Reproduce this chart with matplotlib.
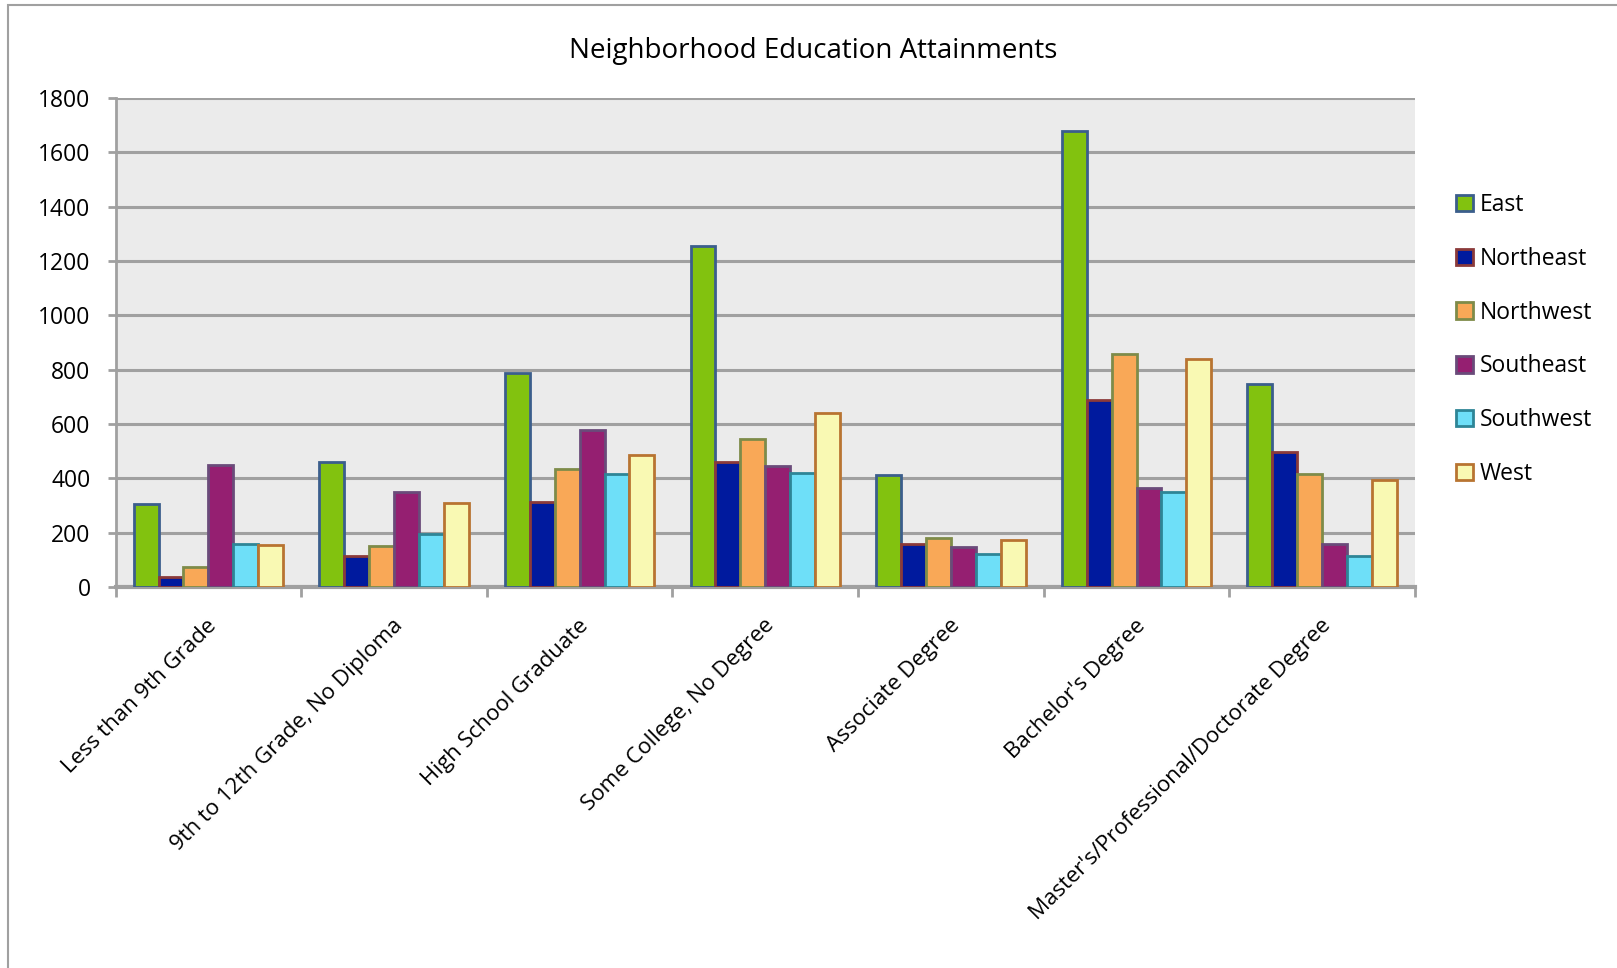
import matplotlib
matplotlib.use("Agg")
import matplotlib.pyplot as plt
import numpy as np
from matplotlib.patches import Rectangle, Patch

categories = ["Less than 9th Grade", "9th to 12th Grade, No Diploma", "High School Graduate",
              "Some College, No Degree", "Associate Degree", "Bachelor's Degree",
              "Master's/Professional/Doctorate Degree"]
series_names = ["East", "Northeast", "Northwest", "Southeast", "Southwest", "West"]
east = [306, 461, 787, 1256, 412, 1679, 747]
northeast = [37, 114, 312, 460, 160, 690, 497]
northwest = [72, 151, 434, 544, 179, 859, 415]
southeast = [450, 349, 577, 446, 147, 366, 159]
southwest = [160, 196, 415, 419, 122, 351, 115]
west = [156, 310, 485, 641, 174, 839, 394]
yticks = [0, 200, 400, 600, 800, 1000, 1200, 1400, 1600, 1800]

series = [east, northeast, northwest, southeast, southwest, west]
fills = ["#82C20F", "#001A9E", "#F9A857", "#951F71", "#6EDFF8", "#F9F9B3"]
edges = ["#3B5E8C", "#8B3A3A", "#7E8B49", "#6A4B7A", "#2E8596", "#B87431"]

W, H = 1617, 968
fig = plt.figure(figsize=(W / 100, H / 100), dpi=100)
font = "Open Sans"

ax = fig.add_axes([115.5 / W, 1 - 587 / H, (1415 - 115.5) / W, (587 - 98) / H])
ax.set_facecolor("#EBEBEB")

n = len(series)
group_w = 0.805
bw = group_w / n
x = np.arange(len(categories))
for i, (vals, fc, ec, name) in enumerate(zip(series, fills, edges, series_names)):
    offs = -group_w / 2 + bw * (i + 0.5)
    ax.bar(x + offs, vals, width=bw, color=fc, edgecolor=ec, linewidth=2.0,
           label=name, zorder=3)

ax.set_xlim(-0.5, len(categories) - 0.5)
ax.set_ylim(0, 1800)
ax.set_yticks(yticks)
ax.set_yticklabels([str(v) for v in yticks], fontsize=16.5, family=font)
ax.yaxis.grid(True, color="#A0A0A0", linewidth=2.2, zorder=0)
ax.set_axisbelow(True)
ax.tick_params(axis="y", length=6, width=2.0, color="#A0A0A0", pad=12)

ax.set_xticks(np.arange(len(categories) + 1) - 0.5)
ax.set_xticklabels([])
ax.tick_params(axis="x", length=7, width=2.0, color="#A0A0A0")
for xi, lab in zip(x, categories):
    ax.annotate(lab, xy=(xi, 0), xycoords=("data", "axes fraction"),
                xytext=(-2, -28), textcoords="offset pixels",
                rotation=45, ha="right", va="top", rotation_mode="anchor",
                fontsize=16, family=font)

for s in ["top", "right"]:
    ax.spines[s].set_visible(False)
ax.spines["left"].set_color("#A0A0A0")
ax.spines["left"].set_linewidth(2.0)
ax.spines["bottom"].set_color("#A0A0A0")
ax.spines["bottom"].set_linewidth(3.0)

fig.text(813 / W, 1 - 51 / H, "Neighborhood Education Attainments", ha="center", va="center",
         fontsize=20, family=font)

handles = [Patch(facecolor=fc, edgecolor=ec, linewidth=2.0) for fc, ec in zip(fills, edges)]
leg = fig.legend(handles, series_names, loc="upper left",
                 bbox_to_anchor=(1456 / W, 1 - 193 / H), frameon=False,
                 prop={"family": font, "size": 16.5}, handlelength=0.72, handleheight=0.72,
                 handletextpad=0.3, labelspacing=1.30, borderaxespad=0, borderpad=0)

# outer chart frame
fig.patches.append(Rectangle((8 / W, -0.1), 1.2, 1 - 5 / H + 0.1, transform=fig.transFigure,
                             fill=False, edgecolor="#A0A0A0", linewidth=1.5))

fig.savefig("out.png", dpi=100)
